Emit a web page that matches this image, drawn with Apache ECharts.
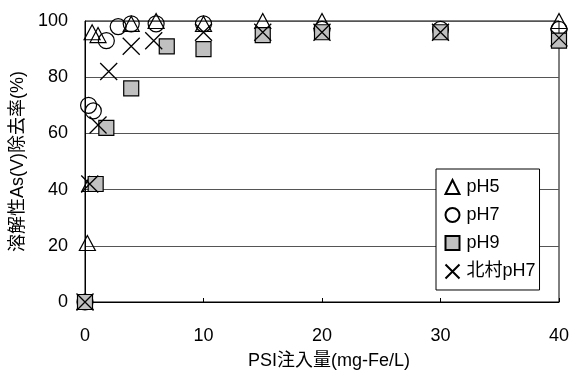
<!DOCTYPE html>
<html>
<head>
<meta charset="utf-8">
<script src="https://cdn.jsdelivr.net/npm/echarts@6/dist/echarts.min.js"></script>
<style>html,body{margin:0;padding:0;background:#fff;}#c{width:576px;height:378px;}</style>
</head>
<body>
<div id="c"></div>
<script>
const seriesNames = ['pH5', 'pH7', 'pH9', '北村pH7'];
const pH5 = [[0,0],[0.2,21],[0.4,42],[0.6,96],[1.1,95],[3.9,99],[6,100],[10,99],[15,100],[20,100],[40,100]];
const pH7 = [[0,0],[0.3,70],[0.7,68],[1.8,93],[2.8,98],[3.9,99],[6,99],[10,99],[20,97],[30,97],[40,97]];
const pH9 = [[0,0],[0.9,42],[1.8,62],[3.9,76],[6.9,91],[10,90],[15,95],[20,96],[30,96],[40,93]];
const kitamura = [[0,0],[0.4,42],[1.1,63],[2,82],[3.9,91],[5.8,93],[10,96],[15,96],[20,96],[30,96],[40,94]];
const xTicks = [0,10,20,30,40];
const yTicks = [0,20,40,60,80,100];
const xTitle = 'PSI注入量(mg-Fe/L)';
const yTitle = '溶解性As(V)除去率(%)';

const FONT = "'Liberation Sans','Noto Sans CJK JP',sans-serif";
const chart = echarts.init(document.getElementById('c'), null, {renderer:'canvas'});
const crossPath = 'path://M0,0L10,10M10,0L0,10';
chart.setOption({
  animation:false,
  backgroundColor:'#fff',
  textStyle:{fontFamily:FONT},
  grid:{left:85,right:17,top:21,bottom:76,show:true,borderColor:'#000',borderWidth:1,
    backgroundColor:'transparent',containLabel:false,outerBoundsMode:'none'},
  xAxis:{type:'value',min:xTicks[0],max:xTicks[xTicks.length-1],interval:10,
    axisLine:{lineStyle:{color:'#000',width:1}},
    axisTick:{inside:true,length:4,lineStyle:{color:'#000'}},
    splitLine:{show:false},
    axisLabel:{color:'#000',fontSize:18,fontFamily:FONT,margin:25},
    name:xTitle,nameLocation:'middle',nameGap:50,
    nameTextStyle:{color:'#000',fontSize:18,fontFamily:FONT,padding:[0,0,0,14]}},
  yAxis:{type:'value',min:yTicks[0],max:yTicks[yTicks.length-1],interval:20,
    axisLine:{show:true,lineStyle:{color:'#000',width:1}},
    axisTick:{show:false},
    splitLine:{lineStyle:{color:'#555',width:1}},
    axisLabel:{color:'#000',fontSize:18,fontFamily:FONT,margin:17},
    name:yTitle,nameLocation:'middle',nameGap:56,nameRotate:90,
    nameTextStyle:{color:'#000',fontSize:18,fontFamily:FONT}},
  legend:{orient:'vertical',left:436,top:169,
    padding:[9,4,9,7],itemGap:10,itemWidth:14,itemHeight:14,
    borderColor:'#000',borderWidth:1,backgroundColor:'#fff',
    textStyle:{color:'#000',fontSize:18,fontFamily:FONT,padding:[0,0,0,2]},
    data:seriesNames},
  series:[
    {name:seriesNames[0],type:'scatter',data:pH5,symbol:'triangle',symbolSize:[16,15],
     itemStyle:{color:'rgba(255,255,255,0)',borderColor:'#000',borderWidth:1.2,opacity:1}},
    {name:seriesNames[1],type:'scatter',data:pH7,symbol:'circle',symbolSize:16,
     itemStyle:{color:'rgba(255,255,255,0)',borderColor:'#000',borderWidth:1.2,opacity:1}},
    {name:seriesNames[2],type:'scatter',data:pH9,symbol:'rect',symbolSize:15,
     itemStyle:{color:'#c0c0c0',borderColor:'#000',borderWidth:1.2,opacity:1}},
    {name:seriesNames[3],type:'scatter',data:kitamura,symbol:crossPath,symbolSize:17,
     itemStyle:{color:'none',borderColor:'#000',borderWidth:1.3,opacity:1}}
  ]
});
</script>
</body>
</html>
